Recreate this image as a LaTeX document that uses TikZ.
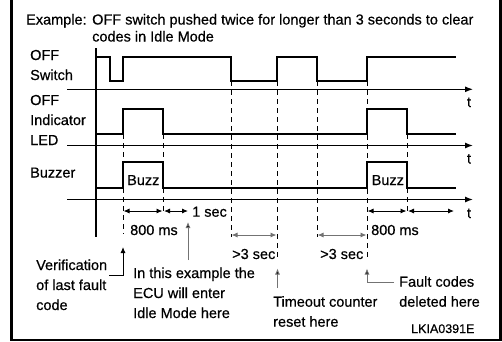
\documentclass[tikz,border=0pt]{standalone}
\usepackage{fontspec}
\setmainfont[FakeBold=0.5]{Liberation Sans}
\usetikzlibrary{arrows.meta}
\begin{document}
\begin{tikzpicture}[x=1pt,y=-1pt,
  sig/.style={line width=1.2pt},
  axisline/.style={line width=1.2pt,-{Latex[length=8pt,width=6pt]}},
  guide/.style={line width=0.9pt,dash pattern=on 5pt off 4pt},
  dim/.style={line width=0.9pt,{Latex[length=6pt,width=5pt]}-{Latex[length=6pt,width=5pt]}},
  gdim/.style={dim,draw=black!55,fill=black},
  pointer/.style={line width=0.9pt,draw=black!55,-{Latex[length=6pt,width=5pt,fill=black]}},
  lbl/.style={anchor=base west,inner sep=0pt,font=\fontsize{14.5}{18}\selectfont},
  small/.style={anchor=base west,inner sep=0pt,font=\fontsize{12.5}{15}\selectfont},
  tl/.style={anchor=base,inner sep=0pt,font=\fontsize{14.5}{18}\selectfont}]
\useasboundingbox (0,0) rectangle (502,341);
% frame
\draw[line width=2.6pt] (11.5,0) -- (11.5,340) -- (500.5,340) -- (500.5,0);
% title
\node[lbl] (title1) at (26,24.5) {Example:};
\node[lbl] (title2) at (92,24.5) {OFF switch pushed twice for longer than 3 seconds to clear};
\node[lbl] (title3) at (92,41.5) {codes in Idle Mode};
% left labels
\node[lbl] (off1) at (30,60) {OFF};
\node[lbl] (sw) at (30,80) {Switch};
\node[lbl] (off2) at (30,105) {OFF};
\node[lbl] (ind) at (30,125) {Indicator};
\node[lbl] (led) at (30,145) {LED};
\node[lbl] (buz) at (30,177.5) {Buzzer};
% axes
\coordinate (vtop) at (96,48);
\coordinate (vbot) at (96,237);
\draw[sig] (vtop) -- (vbot);
\coordinate (a1s) at (67,89.3); \coordinate (a1e) at (473,89.3);
\coordinate (a2s) at (67,145.5); \coordinate (a2e) at (473,145.5);
\coordinate (a3s) at (67,199.5); \coordinate (a3e) at (473,199.5);
\draw[axisline] (a1s) -- (a1e);
\draw[axisline] (a2s) -- (a2e);
\draw[axisline] (a3s) -- (a3e);
\node[tl] (t1) at (469,107) {t};
\node[tl] (t2) at (469,163.5) {t};
\node[tl] (t3) at (469,218) {t};
% signals
\draw[sig] (96,57) -- (110,57) -- (110,81) -- (123,81) -- (123,57) -- (231,57) -- (231,81) -- (277,81) -- (277,57) -- (317,57) -- (317,81) -- (367,81) -- (367,57) -- (456,57);
\draw[sig] (96,134) -- (123,134) -- (123,109) -- (163,109) -- (163,134) -- (367,134) -- (367,109) -- (407,109) -- (407,134) -- (456,134);
\draw[sig] (96,188) -- (123,188) -- (123,162) -- (163,162) -- (163,188) -- (367,188) -- (367,162) -- (407,162) -- (407,188) -- (456,188);
\node[lbl] (buzz1) at (127,185) {Buzz};
\node[lbl] (buzz2) at (371.5,185) {Buzz};
% guides
\draw[guide] (123,134) -- (123,234);
\draw[guide] (163,134) -- (163,214);
\draw[guide] (231,81) -- (231,237);
\draw[guide] (277,81) -- (277,260);
\draw[guide] (317,81) -- (317,237);
\draw[guide] (367,81) -- (367,260);
\draw[guide] (407,134) -- (407,214);
% dimensions
\coordinate (d1a) at (123.5,211); \coordinate (d1b) at (162.5,211);
\coordinate (d2a) at (164,211); \coordinate (d2b) at (188,211);
\coordinate (d3a) at (367.5,211); \coordinate (d3b) at (406.5,211);
\coordinate (d4a) at (408,211); \coordinate (d4b) at (454,211);
\coordinate (d5a) at (231.5,235); \coordinate (d5b) at (276.5,235);
\coordinate (d6a) at (317.5,235); \coordinate (d6b) at (366.5,235);
\draw[dim] (d1a) -- (d1b);
\draw[dim] (d2a) -- (d2b);
\draw[dim] (d3a) -- (d3b);
\draw[dim] (d4a) -- (d4b);
\draw[gdim] (d5a) -- (d5b);
\draw[gdim] (d6a) -- (d6b);
\node[lbl] (sec1) at (192,216.7) {1 sec};
\node[lbl] (ms1) at (130,235) {800 ms};
\node[lbl] (ms2) at (371,235) {800 ms};
\node[lbl] (gt1) at (232,259) {>3 sec};
\node[lbl] (gt2) at (320,259) {>3 sec};
% annotations
\node[lbl] (ver1) at (36,270) {Verification};
\node[lbl] (ver2) at (36,290) {of last fault};
\node[lbl] (ver3) at (36,310) {code};
\node[lbl] (ex1) at (133,278) {In this example the};
\node[lbl] (ex2) at (133,298) {ECU will enter};
\node[lbl] (ex3) at (133,318) {Idle Mode here};
\node[lbl] (to1) at (273,306.7) {Timeout counter};
\node[lbl] (to2) at (273,326.7) {reset here};
\node[lbl] (fc1) at (399,286.7) {Fault codes};
\node[lbl] (fc2) at (399,306.7) {deleted here};
\node[small] (code) at (411,333) {LKIA0391E};
\coordinate (pv) at (123,247);
\coordinate (pe) at (188,222);
\coordinate (peb) at (188,260);
\coordinate (pt) at (277.5,268.5);
\coordinate (ptb) at (277.5,288);
\coordinate (pf) at (367,268.5);
\draw[line width=0.9pt,-{Latex[length=6pt,width=5pt]}] ([xshift=2pt,yshift=-5pt]ver1.base east) -| (pv);
\draw[pointer] (peb) -- (pe);
\draw[pointer] (ptb) -- (pt);
\draw[pointer] ([xshift=-5pt,yshift=4.5pt]fc1.base west) -| (pf);
\end{tikzpicture}
\end{document}
